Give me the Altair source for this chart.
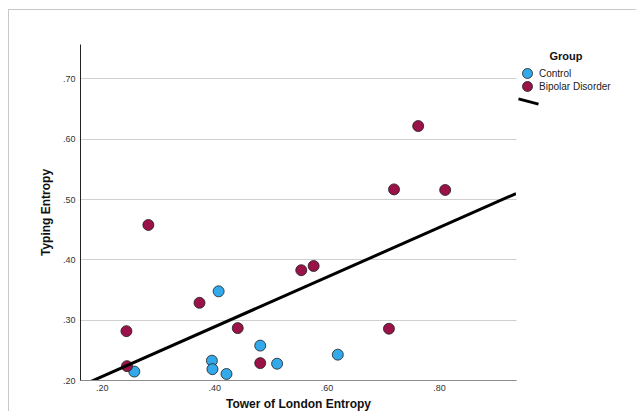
import altair as alt
import pandas as pd

# Values
control_x = [0.408, 0.482, 0.396, 0.397, 0.422, 0.512, 0.620, 0.258]
control_y = [0.347, 0.257, 0.232, 0.218, 0.210, 0.227, 0.242, 0.214]
bipolar_x = [0.763, 0.720, 0.811, 0.283, 0.555, 0.577, 0.374, 0.244, 0.442, 0.711, 0.245, 0.482]
bipolar_y = [0.621, 0.516, 0.515, 0.457, 0.382, 0.389, 0.328, 0.281, 0.286, 0.285, 0.223, 0.228]
groups = ["Control", "Bipolar Disorder"]
group_colors = ["#33a9ea", "#9b1248"]
x_ticks = [0.2, 0.4, 0.6, 0.8]
y_ticks = [0.2, 0.3, 0.4, 0.5, 0.6, 0.7]
x_domain = [0.1614, 0.937]
y_domain = [0.2, 0.757]

df = pd.DataFrame({
    "tol": control_x + bipolar_x,
    "typing": control_y + bipolar_y,
    "group": [groups[0]] * len(control_x) + [groups[1]] * len(bipolar_x),
})

FONT = "Liberation Sans"
label_expr = "replace(format(datum.value, '.2f'), '0.', '.')"

x_scale = alt.Scale(domain=x_domain, nice=False, zero=False)
y_scale = alt.Scale(domain=y_domain, nice=False, zero=False)

x_axis = alt.Axis(values=x_ticks, labelExpr=label_expr, title="Tower of London Entropy",
                  grid=False, ticks=False, domainColor="#8c8c8c", labelPadding=3,
                  labelFontSize=9, labelColor="#333333", labelFont=FONT,
                  titleFont=FONT, titleFontSize=12, titleFontWeight="bold",
                  titleColor="#111111", titlePadding=6)
y_axis = alt.Axis(values=y_ticks, labelExpr=label_expr, title="Typing Entropy",
                  grid=True, gridColor="#cfcfcf", ticks=False, domainColor="#222222",
                  labelPadding=5, labelFontSize=9, labelColor="#333333", labelFont=FONT,
                  titleFont=FONT, titleFontSize=12, titleFontWeight="bold",
                  titleColor="#111111", titlePadding=10)

points = alt.Chart(df).mark_circle(size=121, stroke="#1e1e1e", strokeWidth=0.8, opacity=1).encode(
    x=alt.X("tol:Q", scale=x_scale, axis=x_axis),
    y=alt.Y("typing:Q", scale=y_scale, axis=y_axis),
    color=alt.Color("group:N", scale=alt.Scale(domain=groups, range=group_colors),
                    legend=alt.Legend(title="Group", orient="none", legendX=442, legendY=7,
                                      titleFont=FONT, titleFontSize=11, titleFontWeight="bold",
                                      titleColor="#111111", titleAnchor="middle", titlePadding=6,
                                      labelFont=FONT, labelFontSize=10, labelColor="#222222",
                                      symbolSize=100, symbolType="circle",
                                      symbolStrokeColor="#1e1e1e", symbolStrokeWidth=0.8,
                                      symbolOpacity=1, rowPadding=-4, labelOffset=6, padding=0)),
)

fit = alt.Chart(df).transform_regression(
    "tol", "typing", extent=x_domain
).transform_calculate(fit="'Fit'").mark_line(clip=True, strokeWidth=3).encode(
    x=alt.X("tol:Q", scale=x_scale),
    y=alt.Y("typing:Q", scale=y_scale),
    stroke=alt.Stroke("fit:N", scale=alt.Scale(range=["#000000"]),
                      legend=alt.Legend(title=None, orient="none", legendX=437, legendY=46,
                                        symbolType="M-1,-0.26L1,0.26", symbolSize=400,
                                        symbolStrokeWidth=3, symbolFillColor="transparent",
                                        labelExpr="''", padding=0)),
)

frame_top = alt.Chart(df).mark_rule(color="#c8c8c8", strokeWidth=1).encode(
    x=alt.value(-72), x2=alt.value(556), y=alt.value(-34.5))
frame_left = alt.Chart(df).mark_rule(color="#c8c8c8", strokeWidth=1).encode(
    x=alt.value(-71.5), y=alt.value(-34.5), y2=alt.value(367))

chart = alt.layer(frame_top, frame_left, points, fit).properties(
    width=436, height=336,
    autosize=alt.AutoSizeParams(type="none"),
    padding={"left": 72, "top": 36, "right": 120, "bottom": 31},
    background="white",
).configure_view(stroke=None)

chart.save("out.html", embed_options={"renderer": "svg", "actions": False})
